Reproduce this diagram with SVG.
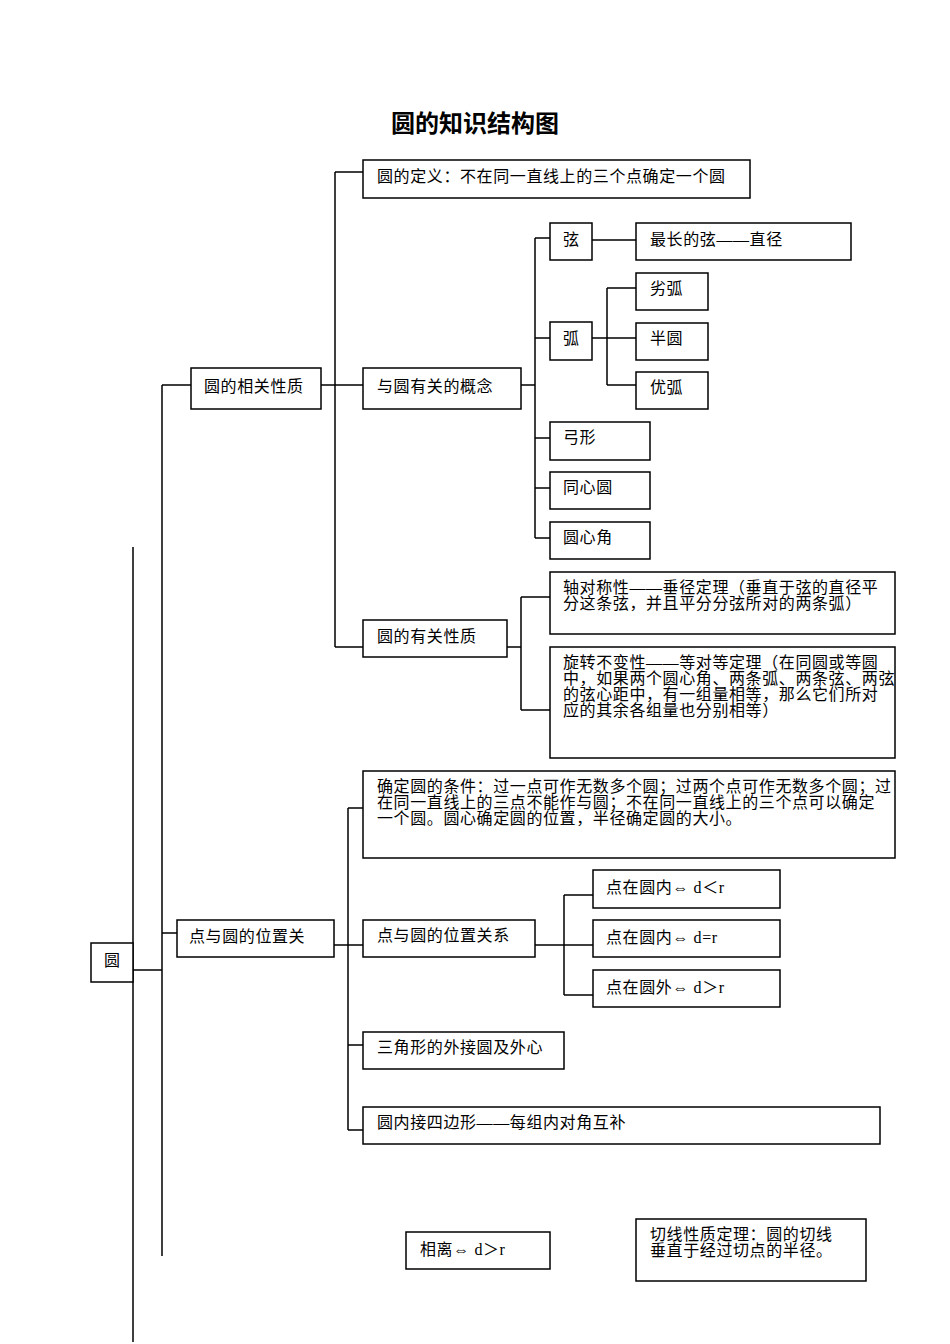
<svg xmlns="http://www.w3.org/2000/svg" width="950" height="1344" viewBox="0 0 950 1344">
<style>
rect{fill:#fff;stroke:#000;stroke-width:1.5}
.c path{fill:none;stroke:#000;stroke-width:1.5}
text{font-family:"Liberation Serif","Noto Sans CJK SC",serif;font-size:16px;letter-spacing:0.6px;fill:#000}
.t{font-size:24px;font-weight:bold;letter-spacing:0}
</style>
<rect x="0" y="0" width="950" height="1344" style="stroke:none"/>
<text class="t" x="475" y="132" text-anchor="middle">圆的知识结构图</text>
<g class="c">
<path d="M133 547V1342M133 970H162M162 385V1256M162 385H191M162 933H177"/>
<path d="M321 385H335M335 172V647M335 172H363M335 385H363M335 647H363"/>
<path d="M521 385H535M535 238V538M535 238H550M535 338H550M535 438H550M535 488H550M535 538H550M592 240H636"/>
<path d="M592 338H607M607 288V385M607 288H636M607 338H636M607 385H636"/>
<path d="M507 647H521M521 597V710M521 597H550M521 710H550"/>
<path d="M334 945H348M348 808V1130M348 808H363M348 945H363M348 1045H363M348 1130H363"/>
<path d="M535 945H564M564 895V995M564 895H593M564 945H593M564 995H593"/>
</g>
<g id="n-yuan"><rect x="91" y="943" width="42" height="39"/><text x="104" y="966">圆</text></g>
<g id="n-xiangguan"><rect x="191" y="368" width="130" height="41"/><text x="204" y="392">圆的相关性质</text></g>
<g id="n-dianyu"><rect x="177" y="920" width="157" height="37"/><text x="189" y="942" letter-spacing="4">点与圆的位置关</text></g>
<g id="n-def"><rect x="363" y="160" width="387" height="38"/><text x="377" y="182">圆的定义：不在同一直线上的三个点确定一个圆</text></g>
<g id="n-gainian"><rect x="363" y="368" width="158" height="41"/><text x="377" y="392">与圆有关的概念</text></g>
<g id="n-youguan"><rect x="363" y="620" width="144" height="37"/><text x="377" y="642">圆的有关性质</text></g>
<g id="n-xian"><rect x="550" y="223" width="42" height="37"/><text x="563" y="245">弦</text></g>
<g id="n-zuichang"><rect x="636" y="223" width="215" height="37"/><text x="650" y="245">最长的弦——直径</text></g>
<g id="n-hu"><rect x="550" y="322" width="42" height="38"/><text x="563" y="344">弧</text></g>
<g id="n-liehu"><rect x="636" y="273" width="72" height="37"/><text x="650" y="294">劣弧</text></g>
<g id="n-banyuan"><rect x="636" y="323" width="72" height="37"/><text x="650" y="344">半圆</text></g>
<g id="n-youhu"><rect x="636" y="372" width="72" height="37"/><text x="650" y="393">优弧</text></g>
<g id="n-gongxing"><rect x="550" y="422" width="100" height="38"/><text x="563" y="443">弓形</text></g>
<g id="n-tongxin"><rect x="550" y="472" width="100" height="37"/><text x="563" y="493">同心圆</text></g>
<g id="n-yuanxinjiao"><rect x="550" y="522" width="100" height="37"/><text x="563" y="543">圆心角</text></g>
<g id="n-zhoudui"><rect x="550" y="572" width="345" height="62"/><text x="563" y="593">轴对称性——垂径定理（垂直于弦的直径平</text><text x="563" y="609">分这条弦，并且平分分弦所对的两条弧）</text></g>
<g id="n-xuanzhuan"><rect x="550" y="647" width="345" height="111"/><text x="563" y="668">旋转不变性——等对等定理（在同圆或等圆</text><text x="563" y="684">中，如果两个圆心角、两条弧、两条弦、两弦</text><text x="563" y="700">的弦心距中，有一组量相等，那么它们所对</text><text x="563" y="716">应的其余各组量也分别相等）</text></g>
<g id="n-queding"><rect x="363" y="771" width="532" height="87"/><text x="377" y="792" letter-spacing="0">确定圆的条件：过一点可作无数多个圆；过两个点可作无数多个圆；过</text><text x="377" y="808" letter-spacing="0">在同一直线上的三点不能作与圆；不在同一直线上的三个点可以确定</text><text x="377" y="824" letter-spacing="0">一个圆。圆心确定圆的位置，半径确定圆的大小。</text></g>
<g id="n-weizhi"><rect x="363" y="920" width="172" height="37"/><text x="377" y="941">点与圆的位置关系</text></g>
<g id="n-nei1"><rect x="593" y="870" width="187" height="38"/><text x="606" y="893">点在圆内⇔ d＜r</text></g>
<g id="n-nei2"><rect x="593" y="920" width="187" height="37"/><text x="606" y="943">点在圆内⇔ d=r</text></g>
<g id="n-wai"><rect x="593" y="970" width="187" height="37"/><text x="606" y="993">点在圆外⇔ d＞r</text></g>
<g id="n-sanjiao"><rect x="363" y="1032" width="201" height="37"/><text x="377" y="1053">三角形的外接圆及外心</text></g>
<g id="n-neijie"><rect x="363" y="1107" width="517" height="37"/><text x="377" y="1128">圆内接四边形——每组内对角互补</text></g>
<g id="n-xiangli"><rect x="406" y="1232" width="144" height="37"/><text x="420" y="1255">相离⇔ d＞r</text></g>
<g id="n-qiexian"><rect x="636" y="1219" width="230" height="62"/><text x="650" y="1240">切线性质定理：圆的切线</text><text x="650" y="1256">垂直于经过切点的半径。</text></g>
</svg>
